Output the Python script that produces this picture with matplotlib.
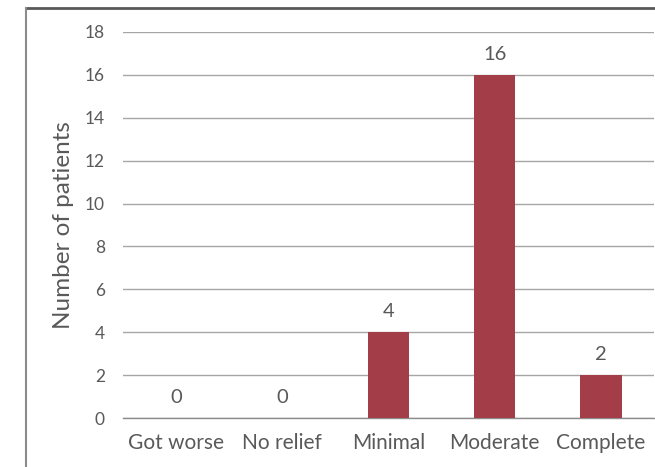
import matplotlib
matplotlib.use("Agg")
import matplotlib.pyplot as plt
from matplotlib.lines import Line2D

categories = ["Got worse", "No relief", "Minimal", "Moderate", "Complete"]
patients = [0, 0, 4, 16, 2]
yticks = [0, 2, 4, 6, 8, 10, 12, 14, 16, 18]

plt.rcParams['font.family'] = ['Lato', 'DejaVu Sans']
text_color = "#595959"
bar_color = "#A33D48"

fig = plt.figure(figsize=(6.55, 4.67), dpi=100)
ax = fig.add_axes([0.1878, 0.1049, 0.8107, 0.8266])

x = list(range(len(categories)))
bars = ax.bar(x, patients, width=0.39, color=bar_color, zorder=3)
for xi, v in zip(x, patients):
    ax.text(xi, v + 0.55, str(v), ha='center', va='bottom', fontsize=14.5, color=text_color)

ax.set_ylim(0, 18)
ax.set_xlim(-0.5, len(categories) - 0.5)
ax.set_yticks(yticks)
ax.set_xticks(x)
ax.set_xticklabels(categories, fontsize=15, color=text_color)
ax.tick_params(axis='y', length=0, pad=13, labelsize=12.5, labelcolor=text_color)
ax.tick_params(axis='x', length=0, pad=11)
ax.yaxis.grid(True, color="#A6A6A6", linewidth=1.0, zorder=0)
ax.set_axisbelow(True)
for s in ['top', 'right', 'left']:
    ax.spines[s].set_visible(False)
ax.spines['bottom'].set_color("#8C8C8C")
ax.spines['bottom'].set_linewidth(1.0)
ax.set_ylabel("Number of patients", fontsize=17.5, color=text_color, labelpad=8)

# outer frame (top and left visible)
fw, fh = 655, 467
fig.add_artist(Line2D([26/fw, 1.0], [1 - 8/fh, 1 - 8/fh], transform=fig.transFigure, color="#595959", linewidth=2))
fig.add_artist(Line2D([26/fw, 26/fw], [1 - 8/fh, 0], transform=fig.transFigure, color="#8C8C8C", linewidth=1.5))

fig.savefig("out.png", dpi=100)
